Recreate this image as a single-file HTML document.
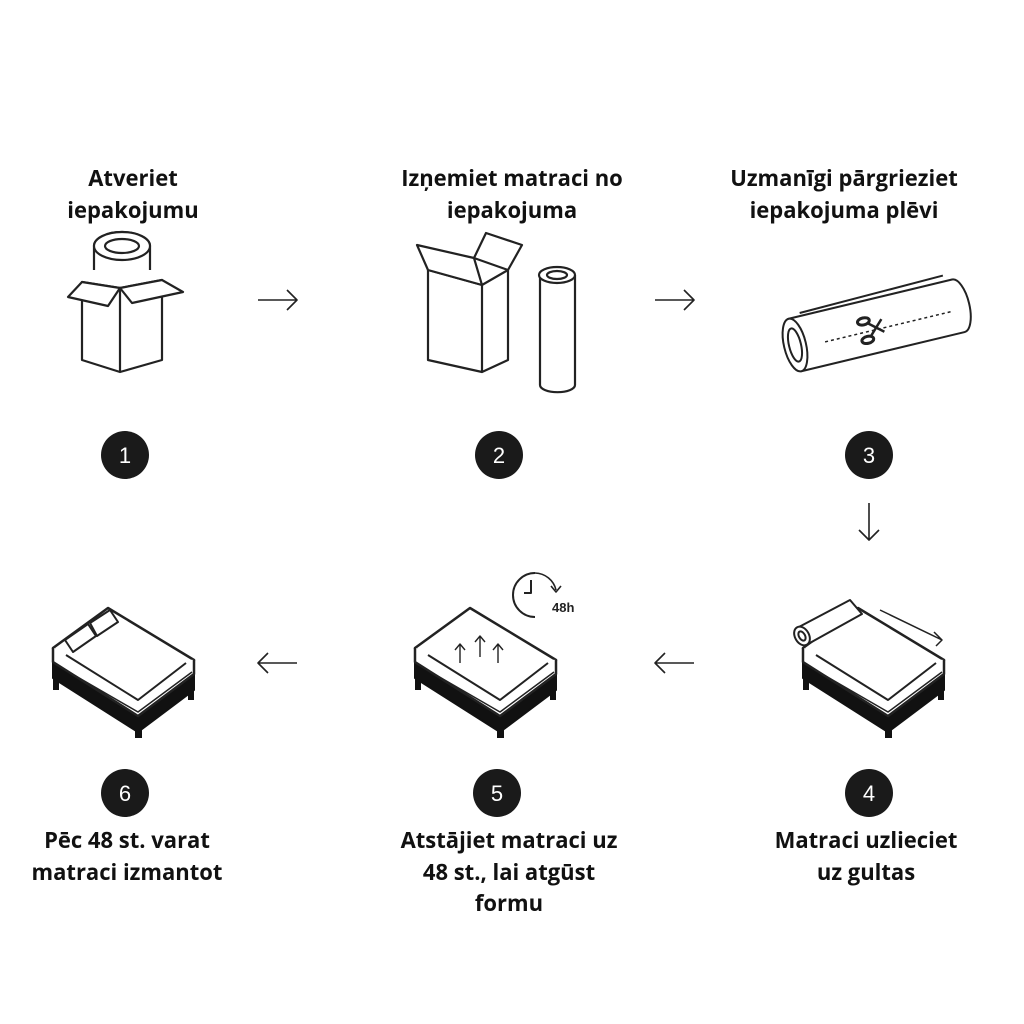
<!DOCTYPE html>
<html><head><meta charset="utf-8"><style>
html,body{margin:0;padding:0;background:#fff}
.t{position:absolute;font-family:"Open Sans","Liberation Sans",sans-serif;font-weight:bold;font-size:22px;line-height:31.5px;color:#111;text-align:center;width:320px}
</style></head><body>
<div style="position:relative;width:1024px;height:1024px;overflow:hidden">
<div class="t" style="left:-27px;top:163px">Atveriet<br>iepakojumu</div>
<div class="t" style="left:352px;top:163px">Izņemiet matraci no<br>iepakojuma</div>
<div class="t" style="left:684px;top:163px">Uzmanīgi pārgrieziet<br>iepakojuma plēvi</div>
<div class="t" style="left:-33px;top:825px">Pēc 48 st. varat<br>matraci izmantot</div>
<div class="t" style="left:349px;top:825px">Atstājiet matraci uz<br>48 st., lai atgūst<br>formu</div>
<div class="t" style="left:706px;top:825px">Matraci uzlieciet<br>uz gultas</div>
<svg width="1024" height="1024" style="position:absolute;left:0;top:0" fill="none" stroke="#222" stroke-width="2" stroke-linejoin="round">
<defs>
<g id="bed">
<polygon points="415,662 500,716 556,674 556,690 500,732 415,678" fill="#111" stroke="#111"/>
<rect x="415" y="676" width="6" height="14" fill="#111" stroke="none"/>
<rect x="497" y="728" width="7" height="10" fill="#111" stroke="none"/>
<rect x="550" y="686" width="6" height="14" fill="#111" stroke="none"/>
<path d="M415,648 L470,608 L556,660 L500,702 Z" fill="#fff" stroke-width="2.5"/>
<path d="M415,648 L415,662 L500,716 L556,674 L556,660" fill="#fff" stroke-width="2.5"/>
<path d="M428,655 L500,700 L548,663" stroke-width="2"/>
<path d="M417,664 L500,712 L554,672" stroke-width="1.5"/>
</g>
</defs>
<!-- box 1 -->
<g stroke-width="2.2">
<path d="M94,270 L94,246 A28,14 0 0 1 150,246 L150,270" fill="#fff"/>
<ellipse cx="122" cy="246" rx="28" ry="14" fill="#fff"/>
<ellipse cx="122" cy="246" rx="17" ry="7"/>
<path d="M82,282 L120,288 L162,280 L162,360 L120,372 L82,360 Z" fill="#fff"/>
<path d="M120,288 L120,372"/>
<path d="M82,282 L68,297 L108,306 L120,288 Z" fill="#fff"/>
<path d="M162,280 L183,292 L132,303 L120,288 Z" fill="#fff"/>
</g>
<!-- box 2 -->
<g stroke-width="2.2">
<path d="M428,270 L482,285 L508,270 L508,360 L482,372 L428,360 Z" fill="#fff"/>
<path d="M482,285 L482,372"/>
<path d="M474,258 L486,233 L522,245 L508,270 Z" fill="#fff"/>
<path d="M428,270 L417,245 L474,258 L482,285 Z" fill="#fff"/>
<path d="M540,275 L540,385 A17,7 0 0 0 575,385 L575,275" fill="#fff"/>
<ellipse cx="557" cy="275" rx="18" ry="8" fill="#fff"/>
<ellipse cx="557" cy="275" rx="10" ry="4"/>
</g>
<!-- roll 3 -->
<g transform="translate(795,345) rotate(-13.5)" stroke-width="2">
<path d="M0,-27 L168,-27 A11,27 0 0 1 168,27 L0,27" fill="#fff"/>
<path d="M12,-30 L160,-33"/>
<ellipse cx="0" cy="0" rx="11" ry="27" fill="#fff"/>
<ellipse cx="0" cy="0" rx="6" ry="17"/>
<path d="M30,4 L160,4" stroke-dasharray="3,3" stroke-width="1.5"/>
<ellipse cx="72" cy="-7" rx="6" ry="3.5" stroke-width="3"/>
<ellipse cx="72" cy="12" rx="6" ry="3.5" stroke-width="3"/>
<path d="M76,-4 L90,8 M76,9 L90,-5" stroke-width="2.5"/>
</g>
<!-- arrows -->
<g stroke-width="1.6">
<path d="M258,300 L297,300 M287,290 L297,300 L287,310"/>
<path d="M655,300 L694,300 M684,290 L694,300 L684,310"/>
<path d="M869,503 L869,540 M859,530 L869,540 L879,530"/>
<path d="M258,663 L297,663 M268,653 L258,663 L268,673"/>
<path d="M655,663 L694,663 M665,653 L655,663 L665,673"/>
</g>
<!-- circles -->
<g fill="#1a1a1a" stroke="none">
<circle cx="125" cy="455" r="24"/><circle cx="499" cy="455" r="24"/><circle cx="869" cy="455" r="24"/>
<circle cx="125" cy="793" r="24"/><circle cx="497" cy="793" r="24"/><circle cx="869" cy="793" r="24"/>
</g>
<g fill="#fff" stroke="none" font-family="Liberation Sans,sans-serif" font-size="22" text-anchor="middle">
<text x="125" y="463">1</text><text x="499" y="463">2</text><text x="869" y="463">3</text>
<text x="125" y="801">6</text><text x="497" y="801">5</text><text x="869" y="801">4</text>
</g>
<!-- beds -->
<use href="#bed"/>
<use href="#bed" transform="translate(-362,0)"/>
<use href="#bed" transform="translate(388,0)"/>
<g stroke-width="1.4">
<path d="M460,663 L460,645 M455,650 L460,644 L465,650"/>
<path d="M480,657 L480,637 M475,642 L480,636 L485,642"/>
<path d="M498,663 L498,645 M493,650 L498,644 L503,650"/>
</g>
<!-- clock -->
<path d="M535,573 A22,22 0 1 0 535,617" stroke-width="2"/>
<path d="M535,573 A22,22 0 0 1 556,590 M551,586 L556,592 L561,586" stroke-width="1.6"/>
<path d="M531,580 L531,593 L524,593" stroke-width="2"/>
<text x="552" y="612" fill="#222" stroke="none" font-family="Liberation Sans,sans-serif" font-weight="bold" font-size="13">48h</text>
<!-- pillows bed6 -->
<g stroke-width="2" fill="#fff">
<path d="M65,640 L88,624 L96,636 L73,652 Z"/>
<path d="M90,623 L110,610 L118,622 L97,636 Z"/>
</g>
<!-- roll bed4 -->
<g stroke-width="2" fill="#fff">
<path d="M797,628 L850,600 L862,614 L808,644 Z"/>
<ellipse cx="802" cy="636" rx="7" ry="10" transform="rotate(-30 802 636)"/>
<ellipse cx="802" cy="636" rx="3" ry="5" transform="rotate(-30 802 636)"/>
<path d="M880,610 L942,640 M934,632 L942,640 L936,646" stroke-width="1.5"/>
</g>
</svg>
</div>
</body></html>
